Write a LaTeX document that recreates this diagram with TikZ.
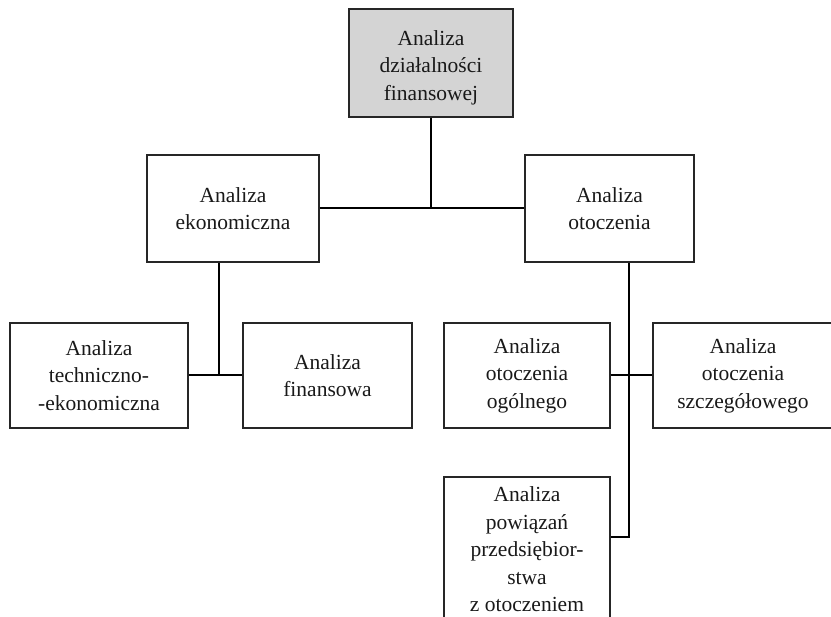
\documentclass[tikz,border=0pt]{standalone}
\usepackage{fontspec}
\setmainfont{Liberation Serif}
\begin{document}
\begin{tikzpicture}[x=1pt,y=-1pt,
  box/.style={draw=black!85, line width=1.3pt, rectangle, inner sep=0pt,
    align=center, text=black!90, font=\fontsize{21.5}{27.5}\selectfont},
  boxtext/.style={inner sep=0pt, align=center, text=black!90,
    font=\fontsize{21.5}{27.5}\selectfont},
  link/.style={line width=2pt, black}]
\useasboundingbox (0,0) rectangle (831,617);
\clip (0,0) rectangle (831,617);

% root
\node[box, fill=black!17, minimum width=164pt, minimum height=108pt] (root) at (431,63) {};
\node[boxtext] (roottext) at (431,67.5) {Analiza\\działalności\\finansowej};

% second level
\node[box, minimum width=172pt, minimum height=107pt] (ekon) at (233,208.5)
  {Analiza\\ekonomiczna};
\node[box, minimum width=169pt, minimum height=107pt] (otoc) at (609.5,208.5)
  {Analiza\\otoczenia};

% third level
\node[box, minimum width=178pt, minimum height=105pt] (tech) at (99,375.5)
  {Analiza\\techniczno-\\-ekonomiczna};
\node[box, minimum width=169pt, minimum height=105pt] (fin) at (327.5,375.5)
  {Analiza\\finansowa};
\node[box, minimum width=166pt, minimum height=105pt] (ogol) at (527,375.5)
  {Analiza\\otoczenia\\ogólnego};
\node[box, minimum width=180pt, minimum height=105pt] (szcz) at (743,375.5)
  {Analiza\\otoczenia\\szczegółowego};
\node[box, minimum width=166pt, minimum height=150pt] (pow) at (527,552) {};
\node[boxtext] (powtext) at (527,549.5)
  {Analiza\\powiązań\\przedsiębior-\\stwa\\z otoczeniem};

% junction points
\coordinate (j1) at (431,208.5);
\coordinate (j2) at (219,375.5);
\coordinate (j3) at (629,537);

% connectors
\draw[link] (root.south) -- (j1);
\draw[link] (ekon.east) -- (otoc.west);
\draw[link] (ekon.south -| j2) -- (j2);
\draw[link] (tech.east) -- (fin.west);
\draw[link] (otoc.south -| j3) -- (j3) -- (j3 -| pow.east);
\draw[link] (ogol.east) -- (szcz.west);
\end{tikzpicture}
\end{document}
